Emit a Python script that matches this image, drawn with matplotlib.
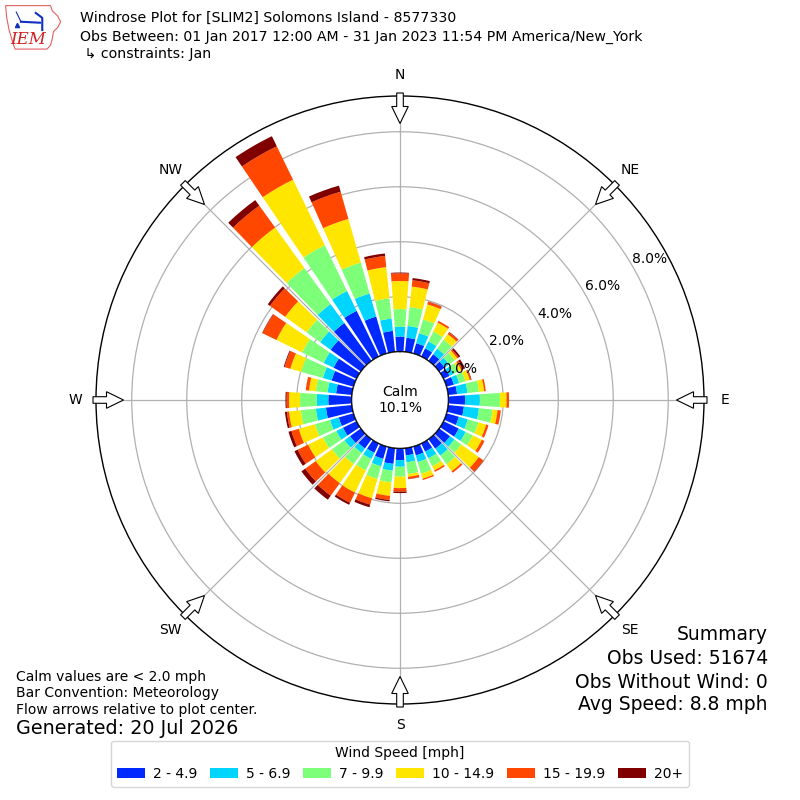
import numpy as np
import matplotlib
matplotlib.use("Agg")
import matplotlib.pyplot as plt
from matplotlib.patches import Polygon, Circle

# wind direction (deg, meteorological) and frequency (%) per speed bin
directions = np.arange(0, 360, 10)
bin_labels = ["2 - 4.9", "5 - 6.9", "7 - 9.9", "10 - 14.9", "15 - 19.9", "20+"]
bin_2_5 = [0.55, 0.52, 0.39, 0.33, 0.30, 0.25, 0.25, 0.28, 0.33, 0.61, 0.58, 0.47,
           0.62, 0.49, 0.43, 0.33, 0.34, 0.27, 0.43, 0.58, 0.47, 0.38, 0.42, 0.49,
           0.55, 0.56, 0.95, 0.85, 0.58, 0.83, 0.93, 1.36, 1.70, 1.85, 1.40, 0.77]
bin_5_7 = [0.36, 0.43, 0.38, 0.28, 0.25, 0.20, 0.17, 0.20, 0.38, 0.54, 0.55, 0.34,
           0.28, 0.20, 0.31, 0.27, 0.25, 0.25, 0.24, 0.25, 0.28, 0.25, 0.20, 0.25,
           0.27, 0.33, 0.37, 0.42, 0.31, 0.33, 0.40, 0.47, 0.85, 0.80, 0.87, 0.45]
bin_7_10 = [0.64, 0.69, 0.52, 0.40, 0.40, 0.25, 0.20, 0.24, 0.42, 0.73, 0.50, 0.40,
            0.29, 0.31, 0.39, 0.32, 0.44, 0.43, 0.36, 0.43, 0.48, 0.46, 0.50, 0.56,
            0.54, 0.57, 0.55, 0.61, 0.43, 0.82, 0.87, 0.61, 1.62, 1.85, 1.17, 0.74]
bin_10_15 = [1.02, 0.75, 0.57, 0.36, 0.25, 0.12, 0.10, 0.16, 0.19, 0.24, 0.18, 0.29,
             0.36, 0.78, 0.31, 0.17, 0.19, 0.10, 0.42, 0.49, 0.73, 0.90, 0.86, 0.73,
             0.60, 0.61, 0.43, 0.40, 0.25, 0.41, 1.04, 0.96, 1.82, 2.65, 1.65, 1.14]
bin_15_20 = [0.28, 0.23, 0.10, 0.07, 0.08, 0.06, 0.08, 0.05, 0.06, 0.09, 0.12, 0.09,
             0.11, 0.21, 0.07, 0.06, 0.05, 0.08, 0.13, 0.15, 0.24, 0.41, 0.56, 0.47,
             0.42, 0.28, 0.08, 0.09, 0.12, 0.22, 0.56, 0.68, 0.98, 1.35, 1.03, 0.41]
bin_20p = [0.03, 0.08, 0.01, 0.00, 0.02, 0.07, 0.08, 0.02, 0.00, 0.00, 0.00, 0.00,
           0.00, 0.01, 0.00, 0.00, 0.00, 0.01, 0.05, 0.05, 0.10, 0.08, 0.18, 0.17,
           0.13, 0.11, 0.07, 0.04, 0.00, 0.03, 0.02, 0.10, 0.25, 0.41, 0.23, 0.09]
calm_pct = 10.1
rticks = [0, 2, 4, 6, 8]
compass = ["N", "NE", "E", "SE", "S", "SW", "W", "NW"]

fig = plt.figure(figsize=(8, 8), dpi=100)
ax = fig.add_axes([0.12, 0.12, 0.76, 0.76], projection="polar")
ax.set_theta_zero_location("N")
ax.set_theta_direction(-1)
ax.set_axisbelow(True)

calm_r = 48.3 / 27.5  # calm circle radius expressed in % units
ax.set_rorigin(-calm_r)
ax.set_rlim(0, 9.3)

colors = plt.cm.jet(np.arange(1, 7) / 6.0)
theta = np.deg2rad(directions)
width = np.deg2rad(8.2)
bottom = np.zeros(len(directions))
handles = []
for vals, col, lab in zip([bin_2_5, bin_5_7, bin_7_10, bin_10_15, bin_15_20, bin_20p],
                          colors, bin_labels):
    vals = np.array(vals)
    b = ax.bar(theta, vals, width=width, bottom=bottom, color=col,
               linewidth=0, label=lab, zorder=2)
    handles.append(b)
    bottom = bottom + vals

ax.set_thetagrids(np.arange(0, 360, 45), labels=[""] * 8)
ax.set_rgrids(rticks, labels=[""] * len(rticks), angle=60)
ax.grid(color="#b0b0b0", linewidth=0.9)
ax.spines["polar"].set_linewidth(1.0)

# radial labels drawn on top so 0.0% shows over the calm circle
for t in rticks:
    ax.text(np.deg2rad(60), t, "%.1f%%" % t, ha="left", va="bottom",
            fontsize=10, zorder=6)

# calm circle in middle
ax.add_patch(Circle((0.5, 0.5), 48.3 / 608.0, transform=ax.transAxes,
                    facecolor="white", edgecolor="black", linewidth=1.0, zorder=3))
ax.text(0.5, 0.5, "Calm\n%.1f%%" % calm_pct, transform=ax.transAxes,
        ha="center", va="center", fontsize=10, zorder=4)

# compass labels and hollow flow arrows
R = 608.0
for i, lab in enumerate(compass):
    ang = np.deg2rad(i * 45)
    ux, uy = np.sin(ang), np.cos(ang)
    vx, vy = np.cos(ang), -np.sin(ang)
    ax.text(0.5 + ux * 325 / R, 0.5 + uy * 325 / R, lab, transform=ax.transAxes,
            ha="center", va="center", fontsize=10)
    pts = []
    for r, s in [(307, 3.3), (293.5, 3.3), (293.5, 8.3), (276.5, 0),
                 (293.5, -8.3), (293.5, -3.3), (307, -3.3)]:
        pts.append((0.5 + (ux * r + vx * s) / R, 0.5 + (uy * r + vy * s) / R))
    ax.add_patch(Polygon(pts, closed=True, transform=ax.transAxes, clip_on=False,
                         facecolor="white", edgecolor="black", linewidth=0.8, zorder=5))

# header
fig.text(0.1, 1 - 18 / 800, "Windrose Plot for [SLIM2] Solomons Island - 8577330",
         fontsize=10.2, va="center")
fig.text(0.1, 1 - 37 / 800,
         "Obs Between: 01 Jan 2017 12:00 AM - 31 Jan 2023 11:54 PM America/New_York",
         fontsize=10.2, va="center")
fig.text(0.1, 1 - 54 / 800, " \u21b3 constraints: Jan", fontsize=10.2, va="center")

# logo
lax = fig.add_axes([0.004, 0.935, 0.074, 0.061])
lax.set_xlim(0, 1)
lax.set_ylim(0, 1)
lax.axis("off")
iowa = [(0.04, 0.95), (0.80, 0.95), (0.83, 0.84), (0.92, 0.74), (0.97, 0.62),
        (0.92, 0.50), (0.85, 0.42), (0.83, 0.28), (0.80, 0.14), (0.74, 0.06),
        (0.20, 0.06), (0.16, 0.20), (0.10, 0.45), (0.06, 0.70)]
lax.add_patch(Polygon(iowa, closed=True, facecolor="white", edgecolor="#e06060",
                      linewidth=0.8))
lax.plot([0.30, 0.62], [0.62, 0.60], color="#1030c0", linewidth=1.5)
lax.plot([0.55, 0.66, 0.66], [0.80, 0.70, 0.45], color="#1030c0", linewidth=1.5)
lax.plot([0.30, 0.22], [0.62, 0.82], color="#1030c0", linewidth=0.8)
lax.plot([0.24], [0.55], marker="^", markersize=3, color="#1030c0")
lax.text(0.42, 0.25, "IEM", color="#d02020", fontsize=12, style="italic",
         family="DejaVu Serif", ha="center", va="center")

# footer notes
fig.text(0.02, 1 - 677 / 800, "Calm values are < 2.0 mph", fontsize=10, va="center")
fig.text(0.02, 1 - 693 / 800, "Bar Convention: Meteorology", fontsize=10, va="center")
fig.text(0.02, 1 - 710 / 800, "Flow arrows relative to plot center.", fontsize=10,
         va="center")
fig.text(0.02, 1 - 729 / 800, "Generated: 20 Jul 2026", fontsize=13.8, va="center")

summary = ["Summary", "Obs Used: 51674", "Obs Without Wind: 0", "Avg Speed: 8.8 mph"]
for line, ypx in zip(summary, [635, 659, 682, 705]):
    fig.text(0.96, 1 - ypx / 800, line, fontsize=13.5, ha="right", va="center")

fig.legend(handles=handles, labels=bin_labels, loc="lower center", ncol=6,
           bbox_to_anchor=(0.5, 0.008), title="Wind Speed [mph]", fontsize=10,
           title_fontsize=10, columnspacing=0.9, handletextpad=0.6)

fig.savefig("out.png", dpi=100)
